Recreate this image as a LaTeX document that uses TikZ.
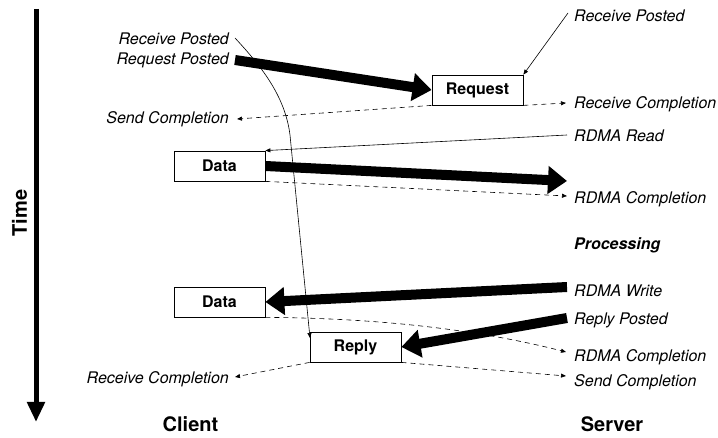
\documentclass[tikz,border=0pt]{standalone}
\usepackage{fontspec}
\setmainfont{TeX Gyre Heros}
\usetikzlibrary{arrows.meta}
\tikzset{
  lbl/.style={font=\fontsize{16}{19}\selectfont\itshape, inner sep=0pt},
  boxnode/.style={draw, line width=0.8pt, minimum width=91pt, minimum height=30pt, inner sep=0pt, font=\fontsize{16}{19}\selectfont\bfseries},
  fatarrow/.style={line width=10pt, -{Triangle[length=19pt,width=27pt]}},
  thinarrow/.style={line width=0.6pt, -{Triangle[length=5pt,width=4pt]}},
  dasharrow/.style={line width=0.6pt, dash pattern=on 5pt off 4pt, -{Triangle[length=5pt,width=4pt]}},
  titletext/.style={font=\fontsize{20}{24}\selectfont\bfseries, inner sep=0pt}
}
\begin{document}
\begin{tikzpicture}[x=1pt,y=-1pt]
\useasboundingbox (0,0) rectangle (718,438);

% boxes
\node[boxnode] (req) at (477.5,90) {Request};
\node[boxnode] (d1) at (219.5,166) {Data};
\node[boxnode] (d2) at (219.5,302) {Data};
\node[boxnode] (rep) at (355.5,347) {Reply};

% labels
\node[lbl, anchor=base west] (rpR) at (574,21.5) {Receive Posted};
\node[lbl, anchor=base east] (rpL) at (229,45) {Receive Posted};
\node[lbl, anchor=base east] (reqP) at (229,64.5) {Request Posted};
\node[lbl, anchor=base east] (scL) at (229,123.5) {Send Completion};
\node[lbl, anchor=base west] (rcR) at (574,108.5) {Receive Completion};
\node[lbl, anchor=base west] (rr) at (574,141.5) {RDMA Read};
\node[lbl, anchor=base west] (rc1) at (574,203.5) {RDMA Completion};
\node[lbl, anchor=base west, font=\fontsize{16}{19}\selectfont\bfseries\itshape] (proc) at (574,249.5) {Processing};
\node[lbl, anchor=base west] (rw) at (574,296.5) {RDMA Write};
\node[lbl, anchor=base west] (rpo) at (574,324.5) {Reply Posted};
\node[lbl, anchor=base west] (rc2) at (574,361.5) {RDMA Completion};
\node[lbl, anchor=base west] (scR) at (574,386.5) {Send Completion};
\node[lbl, anchor=base east] (rcL) at (229,384) {Receive Completion};
\node[titletext, anchor=base] (client) at (190.5,431.3) {Client};
\node[titletext, anchor=base] (server) at (612,431.3) {Server};
\node[titletext, anchor=base, rotate=90] (time) at (27,213) {Time};

% free ends
\coordinate (timeTop) at (36,9);
\coordinate (timeBot) at (36,422);
\coordinate (reqS) at (235,60);
\coordinate (rpRs) at (568,13);
\coordinate (rcRe) at (566,103);
\coordinate (scLe) at (237,119);
\coordinate (rrS) at (567,135);
\coordinate (d1e) at (567,181);
\coordinate (rc1e) at (567,196);
\coordinate (rwS) at (567,287);
\coordinate (rpoS) at (567,318);
\coordinate (rc2e) at (566,352);
\coordinate (rcLe) at (235,377);
\coordinate (scRe) at (566,376);
\coordinate (rpLs) at (235,38);
\coordinate (curveMid) at (290,135);
\coordinate (repIn) at (310,338);

% time axis
\draw[line width=5pt, -{Triangle[length=20pt,width=17pt]}] (timeTop) -- (timeBot);

% connectors
\draw[fatarrow] (reqS) -- (req.west);
\draw[thinarrow] (rpRs) -- (req.north east);
\draw[dasharrow] (req.south east) -- (rcRe);
\draw[dasharrow] (req.south west) -- (scLe);
\draw[thinarrow] (rrS) -- (d1.north east);
\draw[fatarrow] (d1.east) -- (d1e);
\draw[dasharrow] (d1.south east) -- (rc1e);
\draw[fatarrow] (rwS) -- (d2.east);
\draw[fatarrow] (rpoS) -- (rep.east);
\draw[dasharrow] (d2.south east) .. controls (380,318) and (480,330) .. (rc2e);
\draw[dasharrow] (rep.south west) -- (rcLe);
\draw[dasharrow] (rep.south east) -- (scRe);
\draw[thinarrow] (rpLs) .. controls (260,65) and (285,95) .. (curveMid) -- (repIn);
\end{tikzpicture}
\end{document}
